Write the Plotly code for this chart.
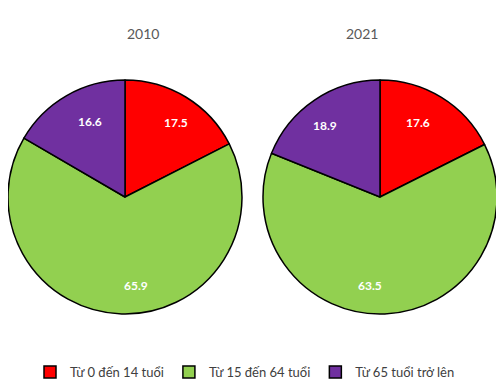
import math
import plotly.graph_objects as go

labels = ["Từ 0 đến 14 tuổi", "Từ 15 đến 64 tuổi", "Từ 65 tuổi trở lên"]
colors = ["#FF0000", "#92D050", "#7030A0"]
years = ["2010", "2021"]
values_2010 = [17.5, 65.9, 16.6]
values_2021 = [17.6, 63.5, 18.9]

W, H = 504, 390
OFF = 8  # page body margin offset
R = 117
cy = 197 - OFF

def dom(cx):
    return dict(x=[max(0, (cx - R) / W), min(1, (cx + R) / W)],
                y=[(H - cy - R) / H, (H - cy + R) / H])

fig = go.Figure()
for cx_ref, vals, yr in [(125, values_2010, years[0]), (380, values_2021, years[1])]:
    cx = cx_ref - OFF
    fig.add_trace(go.Pie(
        labels=labels, values=vals, sort=False, direction="clockwise", rotation=0,
        marker=dict(colors=colors, line=dict(color="black", width=1.5)),
        textinfo="none", domain=dom(cx), hoverinfo="label+value", name=yr,
    ))
    # value labels placed near the outer part of each slice, derived from the data
    total = sum(vals)
    cum = 0.0
    for v in vals:
        mid = (cum + v / 2) / total * 2 * math.pi
        cum += v
        r = 0.84 * R
        lx = cx + r * math.sin(mid)
        ly = cy - r * math.cos(mid)
        fig.add_annotation(text=f"{v:.1f}", x=lx / W, y=1 - ly / H, xref="paper", yref="paper",
                           showarrow=False,
                           font=dict(size=12, color="white", family="Lato", weight="bold"))
    fig.add_annotation(text=yr, x=cx / W, y=1 - (23 - OFF) / H, xref="paper", yref="paper",
                       showarrow=False, font=dict(size=14, color="#595959", family="Lato"))

fig.update_layout(
    width=W, height=H, margin=dict(l=0, r=0, t=0, b=0),
    paper_bgcolor="white", plot_bgcolor="white",
    legend=dict(orientation="h", x=(245 - OFF) / W, xanchor="center", y=1 - (372 - OFF) / H,
                yanchor="middle",
                font=dict(size=13, color="#404040", family="Lato"), itemwidth=30,
                traceorder="normal"),
    showlegend=True,
)
fig.write_html("out.html")
